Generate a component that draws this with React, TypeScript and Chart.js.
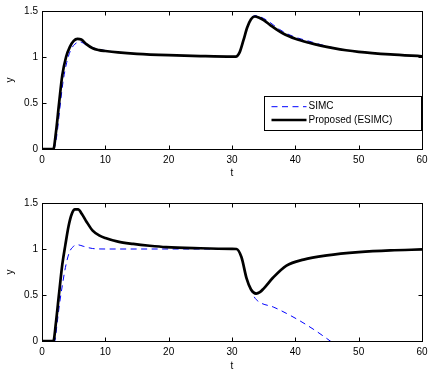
import React, { useEffect, useRef } from 'react';
import { Chart, registerables } from 'chart.js';

Chart.register(...registerables);

const FONT = '"Liberation Sans", Arial, Helvetica, sans-serif';

const SIMC_LABEL = 'SIMC';
const ESIMC_LABEL = 'Proposed (ESIMC)';
const X_LABEL = 't';
const Y_LABEL = 'y';

// Top panel (nominal)
const topT_esimc = [0, 1.8, 2.2, 2.7, 3.2, 3.8, 4.4, 5.0, 5.6, 6.2, 7.0, 8.0, 9.0, 10, 12, 15, 20, 25, 30, 30.6, 31.2, 31.8, 32.4, 33.0, 33.6, 34.2, 35, 36, 37, 38, 39, 40, 42, 44, 46, 48, 50, 55, 60];
const topY_esimc = [0, 0, 0.18, 0.5, 0.8, 1.0, 1.11, 1.175, 1.197, 1.19, 1.14, 1.095, 1.075, 1.065, 1.05, 1.035, 1.02, 1.01, 1.004, 1.004, 1.05, 1.18, 1.32, 1.41, 1.44, 1.43, 1.4, 1.35, 1.3, 1.258, 1.225, 1.198, 1.158, 1.124, 1.096, 1.073, 1.056, 1.028, 1.008];
const topT_simc = [0, 1.8, 2.3, 2.8, 3.3, 3.9, 4.5, 5.2, 6.0, 7.0, 8.5, 10, 12, 15, 20, 25, 30, 30.6, 31.2, 31.8, 32.4, 33.0, 33.8, 34.5, 35.5, 36.5, 37.5, 38.5, 40, 42, 44, 46, 48, 50, 55, 60];
const topY_simc = [0, 0, 0.13, 0.43, 0.72, 0.94, 1.07, 1.14, 1.165, 1.13, 1.09, 1.07, 1.052, 1.036, 1.02, 1.01, 1.004, 1.004, 1.05, 1.18, 1.32, 1.42, 1.45, 1.435, 1.4, 1.35, 1.3, 1.26, 1.215, 1.175, 1.135, 1.1, 1.075, 1.057, 1.028, 1.008];

// Bottom panel (perturbed)
const botT_esimc = [0, 1.8, 2.2, 2.7, 3.2, 3.7, 4.2, 4.7, 5.2, 5.7, 6.3, 7.0, 8.0, 9.1, 10, 12, 14.4, 17, 19.6, 25, 30, 30.7, 31.5, 32.3, 33.0, 33.8, 34.4, 35, 36.5, 38.6, 41.3, 45, 50, 55, 60];
const botY_esimc = [0, 0, 0.2, 0.52, 0.83, 1.05, 1.25, 1.38, 1.43, 1.43, 1.38, 1.3, 1.2, 1.145, 1.12, 1.08, 1.055, 1.035, 1.02, 1.008, 1.002, 1.0, 0.91, 0.68, 0.56, 0.515, 0.53, 0.57, 0.69, 0.82, 0.885, 0.93, 0.965, 0.985, 0.995];
const botT_simc = [0, 2.0, 2.4, 2.8, 3.2, 3.7, 4.3, 5.0, 5.7, 6.5, 8.0, 10, 15, 20, 25, 30, 30.7, 31.5, 32.3, 33.0, 33.5, 34.4, 36.5, 38.6, 40.7, 42.8, 44.7, 46.5];
const botY_simc = [0, 0, 0.2, 0.42, 0.6, 0.8, 0.96, 1.03, 1.045, 1.03, 1.005, 1.0, 1.0, 1.0, 1.0, 1.0, 1.0, 0.91, 0.68, 0.56, 0.48, 0.42, 0.37, 0.3, 0.22, 0.13, 0.04, -0.05];

const X_MIN = 0, X_MAX = 60, X_STEP = 10;
const Y_MIN = 0, Y_MAX = 1.5, Y_STEP = 0.5;

const toPts = (t: number[], y: number[]) => t.map((v, i) => ({ x: v, y: y[i] }));

const matlabAxes = {
  id: 'matlabAxes',
  beforeDatasetsDraw(chart: any) {
    const { ctx, chartArea: a, scales } = chart;
    const L = Math.round(a.left) + 0.5, R = Math.round(a.right) + 0.5;
    const T = Math.round(a.top) + 0.5, B = Math.round(a.bottom) + 0.5;
    const tl = 4;
    ctx.save();
    ctx.strokeStyle = '#000';
    ctx.lineWidth = 1;
    ctx.setLineDash([]);
    ctx.strokeRect(L, T, R - L, B - T);
    ctx.beginPath();
    scales.x.ticks.forEach((t: any) => {
      const p = Math.min(R, Math.max(L, Math.round(scales.x.getPixelForValue(t.value)) + 0.5));
      ctx.moveTo(p, B); ctx.lineTo(p, B - tl);
      ctx.moveTo(p, T); ctx.lineTo(p, T + tl);
    });
    scales.y.ticks.forEach((t: any) => {
      const p = Math.min(B, Math.max(T, Math.round(scales.y.getPixelForValue(t.value)) + 0.5));
      ctx.moveTo(L, p); ctx.lineTo(L + tl, p);
      ctx.moveTo(R, p); ctx.lineTo(R - tl, p);
    });
    ctx.stroke();
    ctx.restore();
  },
  afterDatasetsDraw(chart: any, _args: any, opts: any) {
    if (!opts || !opts.legend) return;
    const { ctx, chartArea: a } = chart;
    const right = Math.round(a.right) - 0.5;
    const left = right - 157;
    const top = Math.round(a.top) + 85.5;
    const h = 34;
    ctx.save();
    ctx.fillStyle = '#fff';
    ctx.fillRect(left, top, right - left, h);
    ctx.strokeStyle = '#000';
    ctx.lineWidth = 1;
    ctx.setLineDash([]);
    ctx.strokeRect(left, top, right - left, h);
    const ys = [top + 10.2, top + 23.5];
    const ds = chart.data.datasets;
    ds.forEach((d: any, i: number) => {
      const y = ys[i];
      ctx.beginPath();
      ctx.strokeStyle = d.borderColor;
      ctx.lineWidth = d.borderWidth;
      ctx.setLineDash(d.borderDash || []);
      ctx.moveTo(left + 7, y);
      ctx.lineTo(left + 42, y);
      ctx.stroke();
      ctx.setLineDash([]);
      ctx.fillStyle = '#000';
      ctx.font = `10px ${FONT}`;
      ctx.textAlign = 'left';
      ctx.textBaseline = 'middle';
      ctx.fillText(d.label, left + 44, y);
    });
    ctx.restore();
  },
};

function makeChart(canvas: HTMLCanvasElement, cfg: {
  simc: { x: number; y: number }[];
  esimc: { x: number; y: number }[];
  padTop: number;
  axisH: number;
  titlePadBottom: number;
  legend: boolean;
  tickPad: number;
}) {
  const font = { family: FONT, size: 10, lineHeight: 1.2 };
  return new Chart(canvas, {
    type: 'line',
    data: {
      datasets: [
        {
          label: SIMC_LABEL,
          data: cfg.simc,
          borderColor: '#0000ff',
          borderWidth: 1,
          borderDash: [6, 4.5],
          pointRadius: 0,
          fill: false,
          cubicInterpolationMode: 'monotone',
          order: 2,
        },
        {
          label: ESIMC_LABEL,
          data: cfg.esimc,
          borderColor: '#000000',
          borderWidth: 2.7,
          pointRadius: 0,
          fill: false,
          cubicInterpolationMode: 'monotone',
          order: 1,
        },
      ],
    },
    options: {
      animation: false,
      responsive: false,
      events: [],
      layout: { padding: { left: 0, right: 8, top: cfg.padTop, bottom: 0 } },
      plugins: {
        legend: { display: false },
        tooltip: { enabled: false },
        matlabAxes: { legend: cfg.legend },
      } as any,
      scales: {
        x: {
          type: 'linear',
          min: X_MIN,
          max: X_MAX,
          grid: { display: false, drawTicks: false },
          border: { display: false },
          ticks: { stepSize: X_STEP, font, color: '#000', padding: cfg.tickPad, maxRotation: 0, callback: (v: any) => String(+v) },
          title: {
            display: true,
            text: X_LABEL,
            color: '#000',
            font: { family: FONT, size: 10, lineHeight: 1 },
            padding: { top: 0, bottom: cfg.titlePadBottom },
          },
          afterFit: (s: any) => { s.height = cfg.axisH; s.paddingLeft = 0; s.paddingRight = 0; },
        },
        y: {
          type: 'linear',
          min: Y_MIN,
          max: Y_MAX,
          grid: { display: false, drawTicks: false },
          border: { display: false },
          ticks: { stepSize: Y_STEP, font, color: '#000', padding: 4, callback: (v: any) => String(+(+v).toFixed(2)) },
          title: {
            display: true,
            text: Y_LABEL,
            color: '#000',
            font: { family: FONT, size: 10, lineHeight: 1 },
            padding: { top: 5, bottom: 0 },
          },
          afterFit: (s: any) => { s.width = 42; s.paddingTop = 0; s.paddingBottom = 0; },
        },
      },
    } as any,
    plugins: [matlabAxes as any],
  });
}

export default function App() {
  const topRef = useRef<HTMLCanvasElement>(null);
  const botRef = useRef<HTMLCanvasElement>(null);

  useEffect(() => {
    const c1 = makeChart(topRef.current!, {
      simc: toPts(topT_simc, topY_simc),
      esimc: toPts(topT_esimc, topY_esimc),
      padTop: 11,
      axisH: 41,
      titlePadBottom: 11.5,
      legend: true,
      tickPad: 5,
    });
    const c2 = makeChart(botRef.current!, {
      simc: toPts(botT_simc, botY_simc),
      esimc: toPts(botT_esimc, botY_esimc),
      padTop: 13,
      axisH: 34,
      titlePadBottom: 3.5,
      legend: false,
      tickPad: 5.5,
    });
    return () => {
      c1.destroy();
      c2.destroy();
    };
  }, []);

  return (
    <div style={{ position: 'absolute', left: 0, top: 0, width: 430, height: 370, overflow: 'hidden', background: '#fff' }}>
      <canvas ref={topRef} width={430} height={190} style={{ position: 'absolute', left: 0, top: 0, width: 430, height: 190 }} />
      <canvas ref={botRef} width={430} height={185} style={{ position: 'absolute', left: 0, top: 190, width: 430, height: 185 }} />
    </div>
  );
}
